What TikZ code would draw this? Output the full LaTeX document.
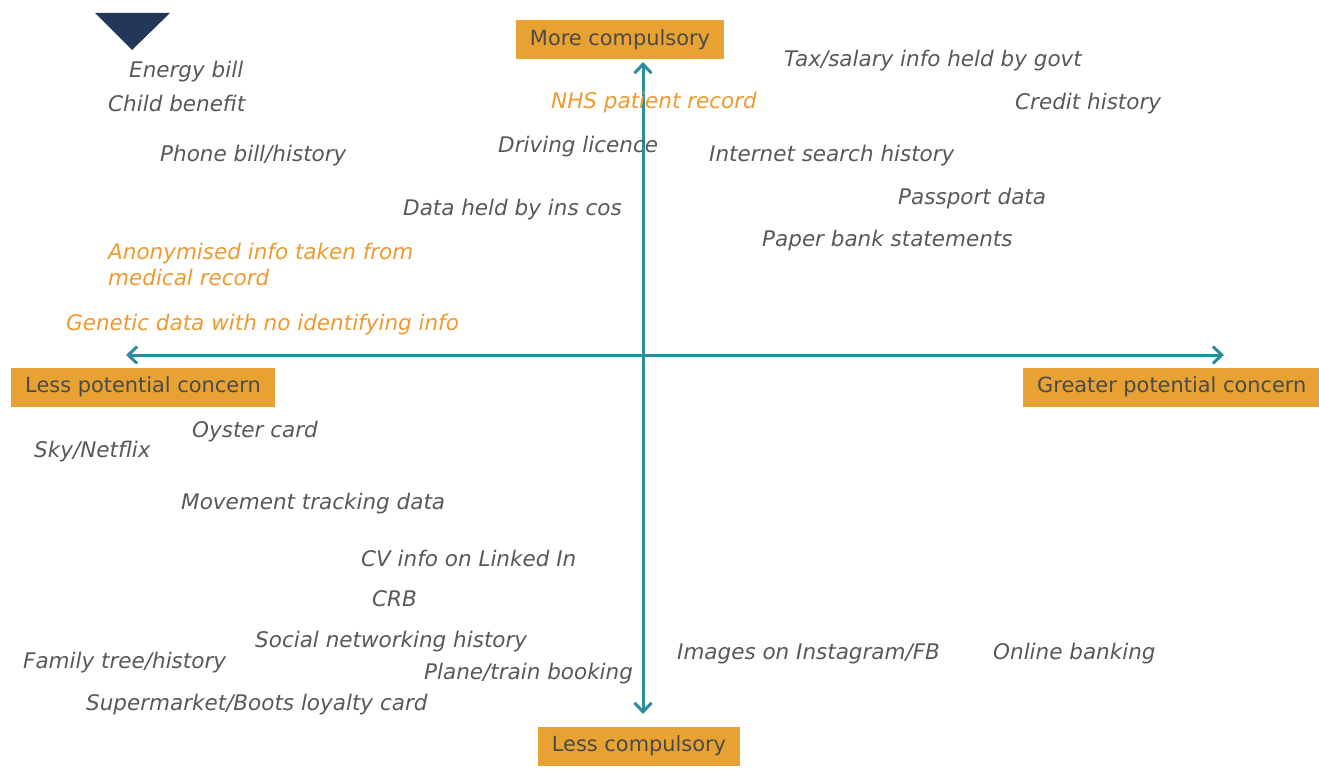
\documentclass[tikz,border=0pt]{standalone}
\usepackage{fontspec}
\setmainfont{DejaVu Sans}
\usetikzlibrary{arrows.meta}

\definecolor{itemgray}{HTML}{585858}
\definecolor{boxtext}{HTML}{4A4A4A}
\definecolor{hilite}{HTML}{EE9A2E}
\definecolor{boxfill}{HTML}{E8A232}
\definecolor{axisteal}{HTML}{2B8C9E}
\definecolor{navy}{HTML}{223759}

\begin{document}
\begin{tikzpicture}[x=1pt,y=-1pt,
  item/.style={anchor=west,inner sep=0pt,text=itemgray,font=\fontsize{21.5}{26}\selectfont\itshape},
  hot/.style={item,text=hilite},
  tag/.style={fill=boxfill,text=boxtext,inner xsep=14pt,minimum height=39pt,font=\fontsize{20.9}{25}\selectfont},
  axis/.style={axisteal,line width=3pt,{Straight Barb[length=9pt,width=17pt]}-{Straight Barb[length=9pt,width=17pt]}}]
\useasboundingbox (0,0) rectangle (1319,775);

% corner mark
\fill[navy] (95,13) -- (170,13) -- (132,50) -- cycle;

% axes
\coordinate (north) at (643,62);
\coordinate (south) at (643,714);
\coordinate (west) at (126,355);
\coordinate (east) at (1224,355);
\draw[axis] (south) -- (north);
\draw[axis] (west) -- (east);

% axis labels
\node[tag] (more) at (620,40) {More compulsory};
\node[tag] (less) at (639,746) {Less compulsory};
\node[tag] (lowc) at (143,387) {Less potential concern};
\node[tag,anchor=west] (highc) at (1023,387) {Greater potential concern};

% top left
\node[item] (energy) at (129,72) {Energy bill};
\node[item] (child) at (108,103) {Child benefit};
\node[item] (phone) at (160,156) {Phone bill/history};
\node[item] (driving) at (498,147) {Driving licence};
\node[item] (inscos) at (403,210) {Data held by ins cos};
\node[hot,align=left] (anon) at (108,264) {Anonymised info taken from\\medical record};
\node[hot] (genetic) at (66,325) {Genetic data with no identifying info};

% top right
\node[hot] (nhs) at (551,103) {NHS patient record};
\node[item] (tax) at (784,61) {Tax/salary info held by govt};
\node[item] (credit) at (1015,104) {Credit history};
\node[item] (search) at (709,156) {Internet search history};
\node[item] (passport) at (898,199) {Passport data};
\node[item] (paper) at (762,241) {Paper bank statements};

% bottom left
\node[item] (oyster) at (192,432) {Oyster card};
\node[item] (sky) at (34,452) {Sky/Netflix};
\node[item] (movement) at (181,504) {Movement tracking data};
\node[item] (cv) at (361,558) {CV info on Linked In};
\node[item] (crb) at (372,599) {CRB};
\node[item] (social) at (255,642) {Social networking history};
\node[item] (family) at (23,663) {Family tree/history};
\node[item] (plane) at (424,674) {Plane/train booking};
\node[item] (loyalty) at (86,705) {Supermarket/Boots loyalty card};

% bottom right
\node[item] (images) at (677,654) {Images on Instagram/FB};
\node[item] (banking) at (993,654) {Online banking};

\end{tikzpicture}
\end{document}
